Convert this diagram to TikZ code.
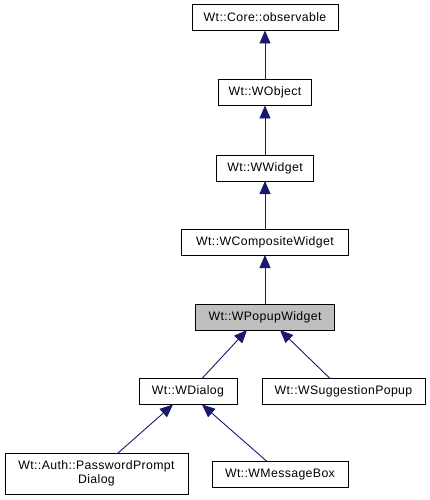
\documentclass[tikz,border=0pt]{standalone}
\usepackage{fontspec}
\setmainfont{Liberation Sans}[LetterSpace=3]
\usepackage{xcolor}
\usepackage{tikz}
\usetikzlibrary{arrows.meta}

\definecolor{edgeblue}{HTML}{191970}
\definecolor{curgray}{HTML}{BFBFBF}

\begin{document}
\begin{tikzpicture}[x=1pt, y=-1pt,
                	    cls/.style = { rectangle, draw, black, fill = white, text = black, line width = 0.9pt, minimum height = 26pt, font = \fontsize{12.3}{14}\selectfont, inner sep=2pt, outer sep=0pt },
                		current/.style = { cls, fill = curgray },
                		inherit/.style = { draw = edgeblue, line width = 0.9pt, -{Triangle[width=11pt, length=13pt, fill=edgeblue]} },
            		] 
            		    \useasboundingbox (0,0) rectangle (430,500);
            		    \node[cls, minimum width = 146pt] (Observable) at (265,17.5) {Wt::Core::observable};
            		    \node[cls, minimum width = 93pt] (WObject) at (265,92.5) {Wt::WObject};
            		    \node[cls, minimum width = 97pt] (WWidget) at (265,168) {Wt::WWidget};
            		    \node[cls, minimum width = 167pt] (WComposite) at (265,242) {Wt::WCompositeWidget};
            		    \node[current, minimum width = 139pt] (WPopup) at (265,317) {Wt::WPopupWidget};
            		    \node[cls, minimum width = 98pt] (WDialog) at (188,391.5) {Wt::WDialog};
            		    \node[cls, minimum width = 163pt] (WSuggestion) at (343.5,391.5) {Wt::WSuggestionPopup};
            		    \node[cls, minimum width = 183pt, minimum height = 41pt, align = center, font = \fontsize{12.3}{14.5}\selectfont] (PasswordDialog) at (96.5,473.5) {Wt::Auth::PasswordPrompt\\Dialog};
            		    \node[cls, minimum width = 136pt] (WMessageBox) at (280,474.5) {Wt::WMessageBox};
            		    % inheritance
            		    \draw[inherit] (WObject) -- (Observable);
            		    \draw[inherit] (WWidget) -- (WObject);
            		    \draw[inherit] (WComposite) -- (WWidget);
            		    \draw[inherit] (WPopup) -- (WComposite);
            		    \draw[inherit] ([xshift=14pt]WDialog.north) -- ([xshift=-18pt]WPopup.south);
            		    \draw[inherit] ([xshift=-13.5pt]WSuggestion.north) -- ([xshift=15pt]WPopup.south);
            		    \draw[inherit] ([xshift=21.5pt]PasswordDialog.north) -- ([xshift=-15pt]WDialog.south);
            		    \draw[inherit] ([xshift=-13pt]WMessageBox.north) -- ([xshift=14pt]WDialog.south);
            		\end{tikzpicture}
\end{document}
